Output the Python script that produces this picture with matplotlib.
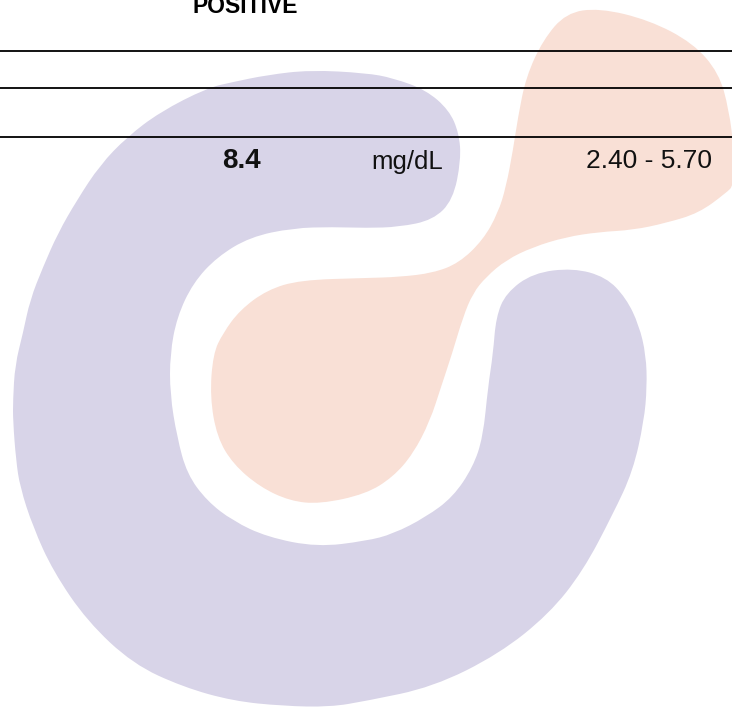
import matplotlib
matplotlib.use("Agg")
import matplotlib.pyplot as plt
from matplotlib.patches import PathPatch
from matplotlib.path import Path

W, H = 732, 708
DPI = 100

# watermark logo outlines (pixel coords, y down)
purple_x = [366, 310, 267, 233, 207, 160, 127, 100, 77, 58, 43, 30, 23, 15, 13, 13, 16, 20,
            33, 53, 87, 133, 183, 233, 283, 330, 366, 433, 499, 549, 583, 613, 633, 644, 647,
            646, 639, 626, 606, 573, 533, 506, 496, 493, 488, 483, 473, 453, 426, 393,
            366, 317, 267, 233, 207, 187, 177, 170, 170, 177, 193, 217, 250, 293, 333, 366,
            399, 433, 453, 461, 459, 449, 426, 393]
purple_y = [73, 70, 75, 82, 88, 112, 137, 165, 200, 233, 267, 300, 333, 365, 400, 421, 460, 487,
            527, 571, 621, 664, 687, 701, 706, 707, 701, 687, 654, 614, 571, 514, 471, 421, 387,
            355, 325, 298, 277, 268, 273, 293, 317, 354, 387, 437, 467, 497, 517, 534,
            541, 547, 537, 521, 501, 474, 437, 394, 354, 317, 283, 257, 237, 228, 227, 228,
            227, 220, 200, 160, 133, 110, 90, 78]

peach_x = [599, 649, 693, 719, 729, 734, 734, 726, 699, 666, 633, 599, 566, 533, 506, 486, 473,
           463, 452, 441, 430, 413, 393, 366, 320, 290, 260, 233, 217, 210, 213, 223, 240, 267,
           300, 366, 399, 433, 459, 483, 498, 506, 513, 518, 526, 543, 566]
peach_y = [8, 20, 43, 73, 110, 150, 185, 193, 213, 223, 230, 232, 237, 247, 260, 277, 293,
           317, 354, 387, 421, 454, 477, 494, 504, 501, 487, 464, 437, 397, 354, 333, 310, 290,
           280, 278, 277, 273, 263, 240, 213, 187, 150, 117, 77, 40, 13]

# table rules and cell texts
rule_y = [50.7, 87.7, 137.3]
header_text = "POSITIVE"
header_pos = (245, 12.7)
row_texts = ["8.4", "mg/dL", "2.40 - 5.70"]
row_x = [241.5, 407, 649.5]
row_size = [20, 18.5, 19]
row_bold = [True, False, False]
row_baseline = 168.5

PURPLE = "#d8d4e8"
PEACH = "#f9e0d6"
FONT = ["Liberation Sans", "DejaVu Sans"]


def blob(xs, ys, color):
    # closed outline, corners rounded with quadratic curves through the midpoints
    pts = list(zip(xs, ys))
    n = len(pts)
    mid = lambda a, b: ((a[0] + b[0]) / 2, (a[1] + b[1]) / 2)
    verts = [mid(pts[-1], pts[0])]
    codes = [Path.MOVETO]
    for i in range(n):
        verts += [pts[i], mid(pts[i], pts[(i + 1) % n])]
        codes += [Path.CURVE3, Path.CURVE3]
    verts.append(verts[0])
    codes.append(Path.CLOSEPOLY)
    return PathPatch(Path(verts, codes), facecolor=color, edgecolor="none", zorder=1)


fig = plt.figure(figsize=(W / DPI, H / DPI), dpi=DPI)
ax = fig.add_axes([0, 0, 1, 1])
ax.set_xlim(0, W)
ax.set_ylim(H, 0)
ax.axis("off")

ax.add_patch(blob(purple_x, purple_y, PURPLE))
ax.add_patch(blob(peach_x, peach_y, PEACH))

for y in rule_y:
    ax.plot([0, W], [y, y], color="black", lw=1.3, zorder=3)

ax.text(header_pos[0], header_pos[1], header_text, ha="center", va="baseline",
        fontsize=16.5, fontweight="bold", family=FONT, zorder=4)

for txt, x, size, bold in zip(row_texts, row_x, row_size, row_bold):
    ax.text(x, row_baseline, txt, ha="center", va="baseline", fontsize=size,
            fontweight="bold" if bold else "normal", family=FONT, color="#111111", zorder=4)

fig.savefig("out.png", dpi=DPI)
